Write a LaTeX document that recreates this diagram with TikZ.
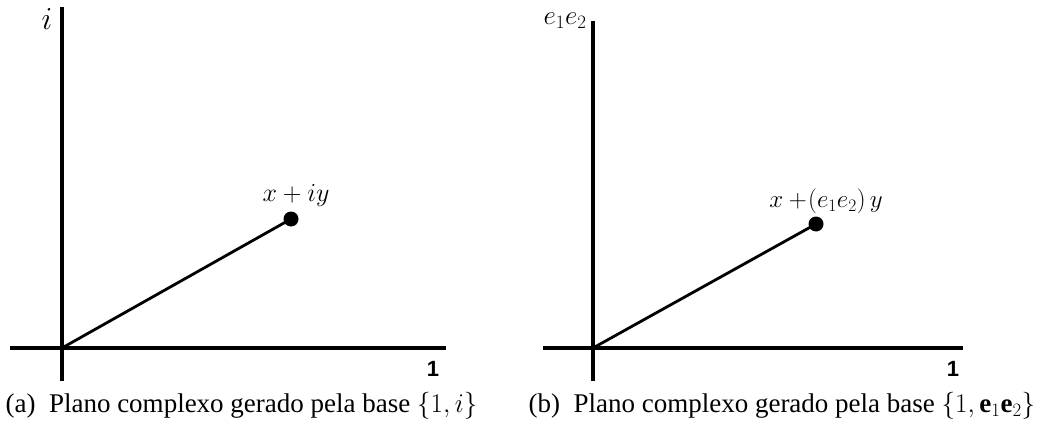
\documentclass[tikz,border=0pt]{standalone}
\usepackage{fix-cm}
\usepackage{fontspec}
\setmainfont{Liberation Serif}
\newfontfamily\arialfont{Liberation Sans}
\begin{document}
\begin{tikzpicture}[x=1pt,y=-1pt,
  axis/.style={line width=3.4pt},
  seg/.style={line width=2.8pt},
  dot/.style={circle,fill=black,inner sep=0pt,minimum size=15pt},
  onelabel/.style={font=\arialfont\bfseries\fontsize{22}{22}\selectfont},
  ptlabel/.style={font=\fontsize{26}{26}\selectfont},
  axlabel/.style={font=\fontsize{32}{32}\selectfont},
  caplabel/.style={font=\fontsize{27}{27}\selectfont}]
\useasboundingbox (0,0) rectangle (1063,428);
% panel a
\coordinate (aT) at (62,7);
\coordinate (aB) at (62,381);
\coordinate (aL) at (10,348);
\coordinate (aR) at (446,348);
\coordinate (aO) at (62,348);
\draw[axis] (aT) -- (aB);
\draw[axis] (aL) -- (aR);
\node[dot] (aP) at (291,219) {};
\draw[seg] (aO) -- (aP.center);
\node[ptlabel] (aPl) at (296,196) {$x+iy$};
\node[axlabel] (ai) at (47,19) {$i$};
\node[onelabel] (a1) at (433,369) {1};
\node[caplabel,anchor=west] (acap) at (2,406) {(a)\enspace Plano complexo gerado pela base $\{1,i\}$};
% panel b
\coordinate (bT) at (593,21);
\coordinate (bB) at (593,381);
\coordinate (bL) at (543,348);
\coordinate (bR) at (963,348);
\coordinate (bO) at (593,348);
\draw[axis] (bT) -- (bB);
\draw[axis] (bL) -- (bR);
\node[dot] (bP) at (816,224) {};
\draw[seg] (bO) -- (bP.center);
\node[ptlabel,font=\fontsize{25}{25}\selectfont] (bPl) at (826,201) {$x\mathbin{+}\!\bigl(e_{1}e_{2}\bigr)\,y$};
\node[axlabel,font=\fontsize{27}{27}\selectfont] (be) at (565,21) {$e_{1}e_{2}$};
\node[onelabel] (b1) at (953,369) {1};
\node[caplabel,anchor=west] (bcap) at (525,406) {(b)\enspace Plano complexo gerado pela base $\{1,\mathbf{e}_1\mathbf{e}_2\}$};
\end{tikzpicture}
\end{document}
